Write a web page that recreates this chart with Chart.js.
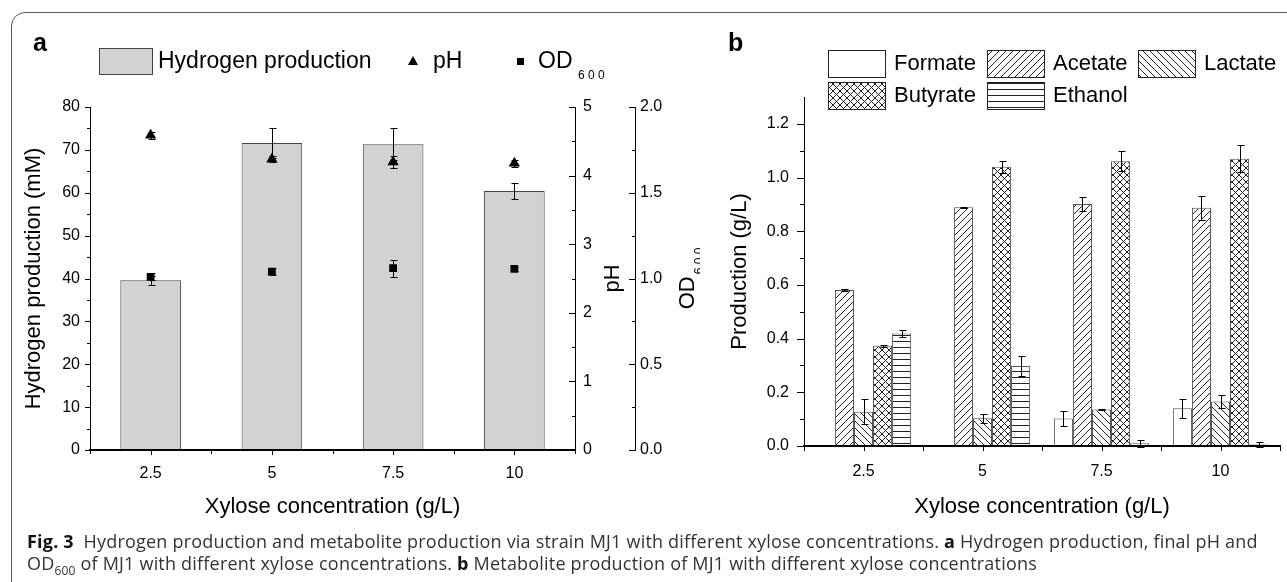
<!DOCTYPE html>
<html>
<head>
<meta charset="utf-8">
<script src="https://cdn.jsdelivr.net/npm/chart.js@4.4.1/dist/chart.umd.min.js"></script>
<style>
  body { margin: 0; background: #fff; width: 1287px; height: 582px; overflow: hidden; position: relative; font-family: "Liberation Sans", Arial, sans-serif; }
  #frame { position: absolute; left: 11px; top: 12px; width: 1320px; height: 640px; border: 1px solid #555; border-radius: 14px; }
  #wa { position: absolute; left: 0; top: 0; width: 700px; height: 540px; }
  #wb { position: absolute; left: 700px; top: 0; width: 587px; height: 540px; }
  .tag { position: absolute; font-weight: bold; font-size: 25px; line-height: 1; color: #000; }
  #cap { position: absolute; left: 27px; top: 530px; font-family: "Open Sans", sans-serif; font-size: 18px; letter-spacing: 0.2px; line-height: 22px; color: #333; white-space: nowrap; }
  #cap b { color: #111; }
</style>
</head>
<body>
<div id="frame"></div>
<div id="wa"><canvas id="chartA"></canvas></div>
<div id="wb"><canvas id="chartB"></canvas></div>
<div class="tag" style="left:33px;top:30px">a</div>
<div class="tag" style="left:728px;top:30px">b</div>
<div id="cap"><b>Fig. 3</b>&nbsp; Hydrogen production and metabolite production via strain MJ1 with different xylose concentrations. <b>a</b> Hydrogen production, final pH and<br>OD<sub style="font-size:12px">600</sub> of MJ1 with different xylose concentrations. <b>b</b> Metabolite production of MJ1 with different xylose concentrations</div>
<script>
// panel a
const concentrations = ['2.5', '5', '7.5', '10'];
const hydrogen = [39.6, 71.6, 71.3, 60.4];
const hydrogenErr = [1.0, 3.6, 3.7, 1.8];
const ph = [4.59, 4.24, 4.2, 4.18];
const phErr = [0.05, 0.04, 0.09, 0.05];
const od600 = [1.01, 1.04, 1.06, 1.056];
const od600Err = [0.02, 0.02, 0.05, 0.01];

// panel b (g/L)
const metabolites = ['Formate', 'Acetate', 'Lactate', 'Butyrate', 'Ethanol'];
const formate = [0, 0, 0.102, 0.141];
const formateErr = [0, 0, 0.029, 0.035];
const acetate = [0.581, 0.889, 0.901, 0.887];
const acetateErr = [0.004, 0.002, 0.026, 0.046];
const lactate = [0.128, 0.103, 0.136, 0.166];
const lactateErr = [0.047, 0.017, 0.002, 0.023];
const butyrate = [0.373, 1.04, 1.061, 1.07];
const butyrateErr = [0.004, 0.022, 0.036, 0.05];
const ethanol = [0.419, 0.298, 0.01, 0.006];
const ethanolErr = [0.014, 0.037, 0.013, 0.01];

Chart.defaults.font.family = '"Liberation Sans", Arial, sans-serif';
Chart.defaults.color = '#000';
Chart.defaults.animation = false;

function hatch(kind) {
  const s = kind === 'h' ? 6 : 7;
  const c = document.createElement('canvas');
  c.width = s; c.height = s;
  const g = c.getContext('2d');
  g.fillStyle = '#fff';
  g.fillRect(0, 0, s, s);
  g.strokeStyle = '#222';
  g.lineWidth = 1;
  g.beginPath();
  if (kind === '/' || kind === 'x') {
    g.moveTo(-1, s + 1); g.lineTo(s + 1, -1);
  }
  if (kind === '\\' || kind === 'x') {
    g.moveTo(-1, -1); g.lineTo(s + 1, s + 1);
  }
  if (kind === 'h') {
    g.moveTo(0, s - 0.5); g.lineTo(s, s - 0.5);
  }
  g.stroke();
  return g.createPattern(c, 'repeat');
}

const fills = ['#fff', hatch('/'), hatch('\\'), hatch('x'), hatch('h')];

const errorBars = {
  id: 'errorBars',
  afterDatasetsDraw(chart) {
    const ctx = chart.ctx;
    ctx.save();
    ctx.strokeStyle = '#000';
    ctx.lineWidth = 1;
    chart.data.datasets.forEach((ds, i) => {
      if (!ds.errors) return;
      const meta = chart.getDatasetMeta(i);
      const ys = chart.scales[meta.yAxisID];
      meta.data.forEach((el, j) => {
        const e = ds.errors[j];
        if (!e) return;
        const v = ds.data[j];
        const x = Math.round(el.x) + 0.5;
        const t = Math.round(ys.getPixelForValue(v + e)) + 0.5;
        const b = Math.round(ys.getPixelForValue(v - e)) + 0.5;
        ctx.beginPath();
        ctx.moveTo(x, t); ctx.lineTo(x, b);
        ctx.moveTo(x - 3, t); ctx.lineTo(x + 4, t);
        ctx.moveTo(x - 3, b); ctx.lineTo(x + 4, b);
        ctx.stroke();
      });
    });
    ctx.restore();
  }
};

// major and minor tick marks, drawn by hand; the x axis line is redrawn over the bars
const tickMarks = {
  id: 'tickMarks',
  afterDraw(chart, args, opts) {
    const ctx = chart.ctx;
    const area = chart.chartArea;
    ctx.save();
    ctx.strokeStyle = '#000';
    (opts.axes || []).forEach(a => {
      const s = chart.scales[a.id];
      const marks = [];
      if (s.type === 'category') {
        s.ticks.forEach((t, i) => { marks.push([i, a.len]); marks.push([i + 0.5, a.minor]); });
        marks.push([-0.5, a.minor]);
        ctx.lineWidth = 2;
        ctx.beginPath();
        ctx.moveTo(area.left - 1, s.top); ctx.lineTo(area.right + 1, s.top);
        ctx.stroke();
      } else {
        const v = s.ticks.map(t => t.value);
        v.forEach((val, i) => {
          marks.push([val, a.len]);
          if (i < v.length - 1) marks.push([(val + v[i + 1]) / 2, a.minor]);
        });
      }
      ctx.lineWidth = 1;
      marks.forEach(([val, len]) => {
        const p = Math.round(s.getPixelForValue(val)) + 0.5;
        ctx.beginPath();
        if (s.isHorizontal()) {
          ctx.moveTo(p, s.top); ctx.lineTo(p, s.top + len);
        } else {
          const x0 = s.position === 'left' ? s.right : s.left;
          ctx.moveTo(x0, p); ctx.lineTo(x0 - len, p);
        }
        ctx.stroke();
      });
    });
    ctx.restore();
  }
};

function flatAxis(extra) {
  return Object.assign({
    grid: { display: false, drawTicks: false },
    border: { color: '#000', width: 1 },
    ticks: { color: '#000', font: { size: 16 } }
  }, extra);
}

const legendA = {
  id: 'legendA',
  afterDraw(chart) {
    const ctx = chart.ctx;
    ctx.save();
    ctx.fillStyle = '#d1d3d2';
    ctx.strokeStyle = '#444';
    ctx.lineWidth = 1;
    ctx.fillRect(99.5, 48.5, 53, 26);
    ctx.strokeRect(99.5, 48.5, 53, 26);
    ctx.fillStyle = '#000';
    ctx.font = '23px "Liberation Sans", Arial, sans-serif';
    ctx.textBaseline = 'middle';
    ctx.fillText('Hydrogen production', 158, 62);
    ctx.beginPath();
    ctx.moveTo(413, 56); ctx.lineTo(418, 65); ctx.lineTo(408, 65); ctx.closePath();
    ctx.fill();
    ctx.fillText('pH', 433, 62);
    ctx.fillRect(517, 58, 7, 7);
    ctx.fillText('OD', 538, 62);
    ctx.font = '12px "Liberation Sans", Arial, sans-serif';
    ctx.fillText('6 0 0', 578, 76);
    // right-hand axis titles, reading upward
    const cy = (chart.chartArea.top + chart.chartArea.bottom) / 2;
    ctx.font = '22px "Liberation Sans", Arial, sans-serif';
    ctx.textAlign = 'center';
    ctx.translate(613, cy);
    ctx.rotate(-Math.PI / 2);
    ctx.fillText('pH', 0, 0);
    ctx.rotate(Math.PI / 2);
    ctx.translate(75, 0);
    ctx.rotate(-Math.PI / 2);
    ctx.textAlign = 'left';
    const w1 = ctx.measureText('OD').width;
    ctx.font = '12px "Liberation Sans", Arial, sans-serif';
    const w2 = ctx.measureText('6 0 0').width;
    const x0 = -(w1 + w2 + 2) / 2;
    ctx.fillText('6 0 0', x0 + w1 + 2, 12);
    ctx.font = '22px "Liberation Sans", Arial, sans-serif';
    ctx.fillText('OD', x0, 0);
    ctx.restore();
  }
};

new Chart(document.getElementById('chartA'), {
  data: {
    labels: concentrations,
    datasets: [
      { type: 'bar', label: 'Hydrogen production', data: hydrogen, errors: hydrogenErr, yAxisID: 'y',
        backgroundColor: '#d1d3d2', borderColor: '#444', borderWidth: 1,
        barPercentage: 1, categoryPercentage: 0.5, order: 3 },
      { type: 'line', label: 'pH', data: ph, errors: phErr, yAxisID: 'yPh', showLine: false,
        pointStyle: 'triangle', pointRadius: 6.5, backgroundColor: '#000', borderColor: '#000', borderWidth: 0, order: 1 },
      { type: 'line', label: 'OD600', data: od600, errors: od600Err, yAxisID: 'yOd', showLine: false,
        pointStyle: 'rect', pointRadius: 5.5, backgroundColor: '#000', borderColor: '#000', borderWidth: 0, order: 2 }
    ]
  },
  options: {
    responsive: true,
    maintainAspectRatio: false,
    events: [],
    layout: { padding: { top: 107, left: 0, right: 0, bottom: 0 } },
    plugins: {
      legend: { display: false },
      tooltip: { enabled: false },
      tickMarks: { axes: [
        { id: 'x', len: 5, minor: 4 },
        { id: 'y', len: 5, minor: 3 },
        { id: 'yPh', len: 6, minor: 3 },
        { id: 'yOd', len: 6, minor: 3 }
      ] }
    },
    scales: {
      x: flatAxis({
        border: { color: '#000', width: 2 },
        ticks: { color: '#000', font: { size: 16 }, padding: 14 },
        title: { display: true, text: 'Xylose concentration (g/L)', color: '#000', font: { size: 22 }, padding: { top: 0, bottom: 20 } },
        afterFit(s) { s.height = 90; }
      }),
      y: flatAxis({
        position: 'left', min: 0, max: 80,
        ticks: { color: '#000', font: { size: 16 }, stepSize: 10, padding: 10 },
        title: { display: true, text: 'Hydrogen production (mM)', color: '#000', font: { size: 22 }, padding: { top: 21 } },
        afterFit(s) { s.width = 90; }
      }),
      yPh: flatAxis({
        position: 'right', min: 0, max: 5,
        ticks: { color: '#000', font: { size: 16 }, stepSize: 1, padding: 8 },
        afterFit(s) { s.width = 60; }
      }),
      yOd: flatAxis({
        position: 'right', min: 0, max: 2,
        ticks: { color: '#000', font: { size: 16 }, stepSize: 0.5, padding: 5, callback: v => v.toFixed(1) },
        afterFit(s) { s.width = 65; }
      })
    }
  },
  plugins: [errorBars, tickMarks, legendA]
});

const legendB = {
  id: 'legendB',
  afterDraw(chart) {
    const ctx = chart.ctx;
    const spots = [[128, 50, 194], [287, 50, 353], [438, 50, 504], [128, 82, 194], [287, 82, 353]];
    ctx.save();
    ctx.font = '22px "Liberation Sans", Arial, sans-serif';
    ctx.textBaseline = 'middle';
    metabolites.forEach((name, i) => {
      const [bx, by, tx] = spots[i];
      ctx.fillStyle = fills[i];
      ctx.fillRect(bx + 0.5, by + 0.5, 57, 27);
      ctx.strokeStyle = '#222';
      ctx.lineWidth = 1;
      ctx.strokeRect(bx + 0.5, by + 0.5, 57, 27);
      ctx.fillStyle = '#000';
      ctx.fillText(name, tx, by + 14);
    });
    ctx.restore();
  }
};

const seriesB = [formate, acetate, lactate, butyrate, ethanol];
const errorsB = [formateErr, acetateErr, lactateErr, butyrateErr, ethanolErr];

new Chart(document.getElementById('chartB'), {
  type: 'bar',
  data: {
    labels: concentrations,
    datasets: metabolites.map((name, i) => ({
      label: name, data: seriesB[i], errors: errorsB[i],
      backgroundColor: fills[i], borderColor: '#555',
      borderWidth: c => (c.raw ? 1 : 0),
      barPercentage: 1, categoryPercentage: 0.8
    }))
  },
  options: {
    responsive: true,
    maintainAspectRatio: false,
    events: [],
    layout: { padding: { top: 97, left: 0, right: 7, bottom: 0 } },
    plugins: {
      legend: { display: false },
      tooltip: { enabled: false },
      tickMarks: { axes: [
        { id: 'x', len: 5, minor: 5 },
        { id: 'y', len: 7, minor: 4 }
      ] }
    },
    scales: {
      x: flatAxis({
        border: { color: '#000', width: 2 },
        ticks: { color: '#000', font: { size: 16 }, padding: 16 },
        title: { display: true, text: 'Xylose concentration (g/L)', color: '#000', font: { size: 22 }, padding: { top: 0, bottom: 20 } },
        afterFit(s) { s.height = 94; }
      }),
      y: flatAxis({
        position: 'left', min: 0, max: 1.3,
        ticks: { color: '#000', font: { size: 16 }, stepSize: 0.2, padding: 15, callback: v => v.toFixed(1) },
        afterBuildTicks(s) { s.ticks = s.ticks.filter(t => Math.abs(t.value / 0.2 - Math.round(t.value / 0.2)) < 1e-6); },
        title: { display: true, text: 'Production (g/L)', color: '#000', font: { size: 22 }, padding: { top: 27 } },
        afterFit(s) { s.width = 104; }
      })
    }
  },
  plugins: [errorBars, tickMarks, legendB]
});
</script>
</body>
</html>
